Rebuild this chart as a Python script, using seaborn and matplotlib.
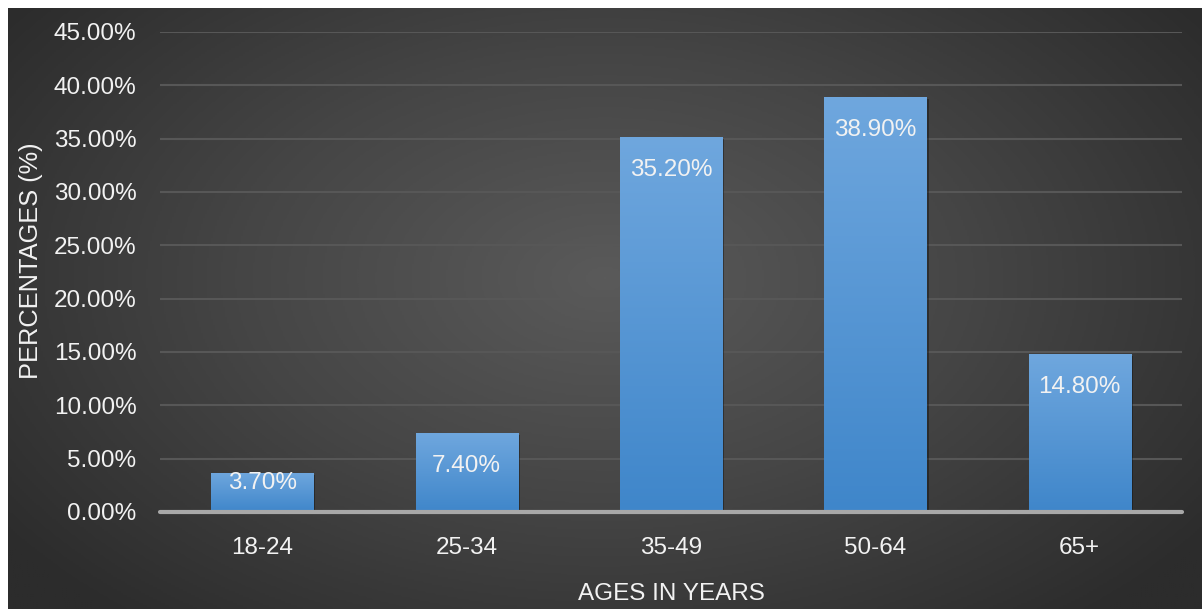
import numpy as np
import pandas as pd
import matplotlib
matplotlib.use("Agg")
import matplotlib.pyplot as plt
import matplotlib.patheffects as pe
from matplotlib.colors import LinearSegmentedColormap
import seaborn as sns

# Survey respondents by age group
age_groups = ["18-24", "25-34", "35-49", "50-64", "65+"]
percentages = [3.70, 7.40, 35.20, 38.90, 14.80]
y_ticks = [0, 5, 10, 15, 20, 25, 30, 35, 40, 45]

df = pd.DataFrame({"age": age_groups, "pct": percentages})

sns.set_theme(style="dark")
plt.rcParams["font.family"] = ["Liberation Sans", "DejaVu Sans"]

W, H = 1202, 609
fig = plt.figure(figsize=(W / 100, H / 100), dpi=100, facecolor="white")

# Dark radial-gradient panel behind the chart
bg = fig.add_axes([8 / W, 0, (W - 8) / W, (H - 8) / H], zorder=0)
gy, gx = np.mgrid[0:1:300j, 0:1:600j]
r = np.sqrt(((gx - 0.5) / 0.62) ** 2 + ((gy - 0.45) / 0.75) ** 2)
r = np.clip(r, 0, 1)
bg_cmap = LinearSegmentedColormap.from_list("bg", ["#5a5a5a", "#454545", "#2c2c2c"])
bg.imshow(r, cmap=bg_cmap, aspect="auto", extent=[0, 1, 0, 1], vmin=0, vmax=1)
bg.set_axis_off()

ax = fig.add_axes([160 / W, (H - 512) / H, (1182 - 160) / W, 480 / H], zorder=1)
ax.set_facecolor("none")

sns.barplot(data=df, x="age", y="pct", width=0.5, color="#5b9bd5",
            saturation=1, linewidth=0, ax=ax, zorder=3)

# Vertical blue gradient inside each bar
bar_cmap = LinearSegmentedColormap.from_list("bar", ["#3f86ca", "#6fa7de"])
grad = np.linspace(0, 1, 256).reshape(-1, 1)
for patch in ax.patches:
    x0, y0 = patch.get_x(), patch.get_y()
    w, h = patch.get_width(), patch.get_height()
    patch.set_edgecolor("none")
    patch.set_path_effects([pe.SimplePatchShadow(offset=(1.5, -1.5), alpha=0.45,
                                                 shadow_rgbFace="#111111"),
                            pe.Normal()])
    im = ax.imshow(grad, cmap=bar_cmap, origin="lower", aspect="auto",
                   extent=[x0, x0 + w, y0, y0 + h], zorder=4)
    im.set_clip_path(patch)

ax.set_xlim(-0.5, len(age_groups) - 0.5)
ax.set_ylim(0, 45)
ax.set_yticks(y_ticks)
ax.set_yticklabels([f"{t:.2f}%" for t in y_ticks])

ax.grid(axis="y", color="#575757", linewidth=1.5, zorder=1)
ax.grid(axis="x", visible=False)
ax.axhline(0, color="#a8a8a8", linewidth=3, zorder=5, clip_on=False)
for s in ax.spines.values():
    s.set_visible(False)

text_color = "#f2f2f2"
fs = 17.5
ax.tick_params(axis="y", length=0, pad=17, labelsize=fs, labelcolor=text_color)
ax.tick_params(axis="x", length=0, pad=18, labelsize=fs, labelcolor=text_color)

ax.set_xlabel("AGES IN YEARS", fontsize=fs, color=text_color, labelpad=17)
ax.set_ylabel("PERCENTAGES (%)", fontsize=18.3, color=text_color, labelpad=8)
ax.yaxis.label.set_y(0.523)

# Value labels just inside the top of each bar
for i, v in enumerate(percentages):
    ly = max(v - 3.1, 2.7)
    ax.text(i, ly, f"{v:.2f}%", ha="center", va="center", fontsize=fs,
            color=text_color, zorder=6)

fig.savefig("out.png", dpi=100, facecolor="white")
